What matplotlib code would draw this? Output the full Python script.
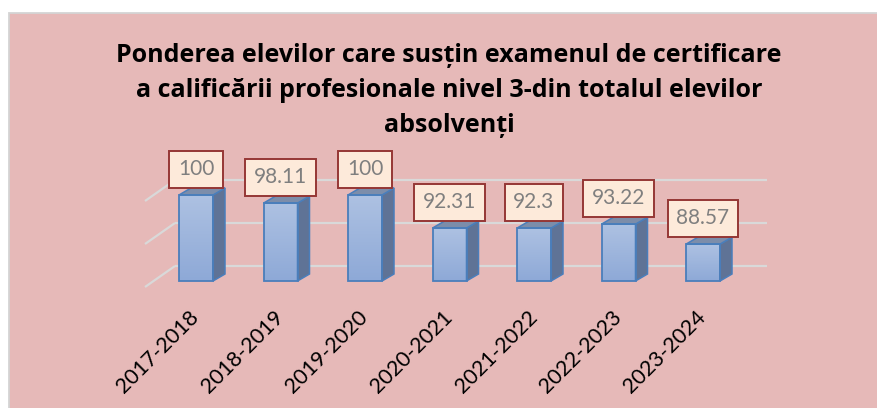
import numpy as np
import matplotlib
matplotlib.use("Agg")
import matplotlib.pyplot as plt
from matplotlib.patches import Rectangle, Polygon
from matplotlib.colors import LinearSegmentedColormap

# ---- data ----
categories = ["2017-2018", "2018-2019", "2019-2020", "2020-2021",
              "2021-2022", "2022-2023", "2023-2024"]
values = [100, 98.11, 100, 92.31, 92.3, 93.22, 88.57]
value_labels = ["100", "98.11", "100", "92.31", "92.3", "93.22", "88.57"]
grid_levels = [80, 90, 100]
y_base = 80
title_lines = ["Ponderea elevilor care susțin examenul de certificare",
               "a calificării profesionale nivel 3-din totalul elevilor",
               "absolvenți"]

FONT = ["Lato", "DejaVu Sans"]
TFONT = ["Open Sans", "DejaVu Sans"]
W, H = 877, 408
fig = plt.figure(figsize=(W / 100, H / 100), dpi=100, facecolor="white")

# chart area background
bg = Rectangle((9 / W, -0.2), 1.2, 1 - 13 / H + 0.2, transform=fig.transFigure,
               fc="#E6B9B8", ec="#D4D4D4", lw=1.3, zorder=-10)
fig.patches.append(bg)

# plot axes (pixel geometry of the plot area)
ax_l, ax_r, ax_t, ax_b = 140, 780, 170, 300
ax = fig.add_axes([ax_l / W, 1 - ax_b / H, (ax_r - ax_l) / W, (ax_b - ax_t) / H])
ax.set_zorder(2)
ax.patch.set_alpha(0)
for s in ax.spines.values():
    s.set_visible(False)

ppx = 84.5   # pixels per category
ppy = 4.3    # pixels per value unit
x0_px, y80_px = 196, 281
xlim = ((ax_l - x0_px) / ppx, (ax_r - x0_px) / ppx)
ylim = (y_base - (ax_b - y80_px) / ppy, y_base + (y80_px - ax_t) / ppy)

x = np.arange(len(categories))
bw = 34 / ppx
ddx, ddy = 12 / ppx, 7 / ppy          # bar depth
back_dy = 15 / ppy                    # back wall offset
front_dy = -6 / ppy                   # front edge of side wall
wall_x0 = (145 - x0_px) / ppx
wall_x1 = (175 - x0_px) / ppx
wall_x2 = (767 - x0_px) / ppx

grid_c = "#D9D9D9"
for v in grid_levels:
    ax.plot([wall_x1, wall_x2], [v + back_dy] * 2, color=grid_c, lw=1.6, zorder=1,
            solid_capstyle="butt")
    ax.plot([wall_x0, wall_x1], [v + front_dy, v + back_dy], color=grid_c, lw=1.6,
            zorder=1, solid_capstyle="butt")

edge_c = "#4A7EBB"
front_cmap = LinearSegmentedColormap.from_list("f", ["#8EA9D7", "#ADC1E2"])
bars = ax.bar(x, np.array(values) - y_base, bottom=y_base, width=bw,
              fc="none", ec=edge_c, lw=1.3, zorder=4)
grad = np.linspace(0, 1, 64).reshape(-1, 1)
for i, (v, b) in enumerate(zip(values, bars)):
    im = ax.imshow(grad, extent=(i - bw / 2, i + bw / 2, y_base, v), origin="lower",
                   aspect="auto", cmap=front_cmap, zorder=3)
    im.set_clip_path(b)
    side = Polygon([(i + bw / 2, y_base), (i + bw / 2 + ddx, y_base + ddy),
                    (i + bw / 2 + ddx, v + ddy), (i + bw / 2, v)],
                   closed=True, fc="#5F7396", ec=edge_c, lw=1.1, zorder=3)
    top = Polygon([(i - bw / 2, v), (i + bw / 2, v), (i + bw / 2 + ddx, v + ddy),
                   (i - bw / 2 + ddx, v + ddy)],
                  closed=True, fc="#7C8DAA", ec=edge_c, lw=1.1, zorder=3)
    ax.add_patch(side)
    ax.add_patch(top)

# data labels
for i, (v, lbl) in enumerate(zip(values, value_labels)):
    ax.annotate(lbl, (i, v), xytext=(0, 11.3), textcoords="offset points",
                ha="center", va="bottom", fontsize=15, color="#7F7F7F",
                family=FONT, zorder=6,
                bbox=dict(boxstyle="square,pad=0.42", fc="#FDEADA", ec="#953735",
                          lw=1.4))

ax.set_xlim(*xlim)
ax.set_ylim(*ylim)
ax.set_yticks([])
ax.set_xticks(x)
ax.set_xticklabels(categories, rotation=45, ha="right", va="center",
                   rotation_mode="anchor", fontsize=15.5, family=FONT)
ax.tick_params(axis="x", length=0, pad=10)

# title
for line, base in zip(title_lines, [61.7, 96.7, 131.7]):
    fig.text(449 / W, 1 - base / H, line, ha="center", va="baseline",
             fontsize=18, fontweight="bold", family=TFONT)

fig.savefig("out.png", dpi=100, facecolor="white")
